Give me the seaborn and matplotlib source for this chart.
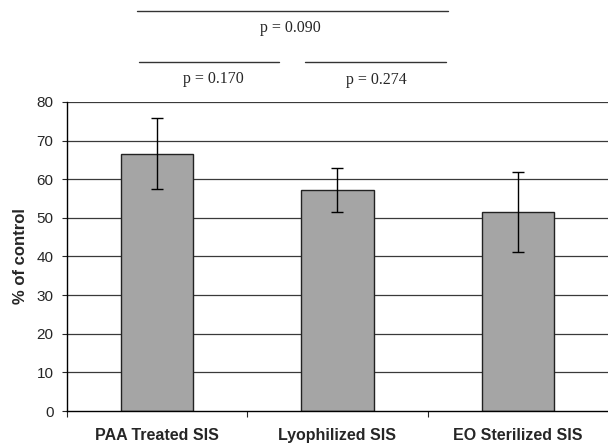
import numpy as np
import pandas as pd
import seaborn as sns
import matplotlib.pyplot as plt

sns.set_style('white')
plt.rcParams['font.family'] = ['Liberation Sans', 'DejaVu Sans']

groups = ['PAA Treated SIS', 'Lyophilized SIS', 'EO Sterilized SIS']
means = [66.6, 57.1, 51.4]
err_lo = [9.1, 5.6, 10.3]
err_hi = [9.2, 5.7, 10.5]

# p-value brackets: (from group, to group, label)
p_pairs = [(0, 2, 'p = 0.090'), (0, 1, 'p = 0.170'), (1, 2, 'p = 0.274')]

df = pd.DataFrame({'group': groups, 'pct': means})

fig = plt.figure(figsize=(6.08, 4.43), dpi=100)
ax = fig.add_axes([0.110, 0.072, 0.89, 0.698])

# gridlines
for v in range(10, 90, 10):
    ax.axhline(v, color='#3a3a3a', lw=0.9, zorder=0)

sns.barplot(data=df, x='group', y='pct', color='#a5a5a5', width=0.4,
            edgecolor='#222222', linewidth=1.0, saturation=1, ax=ax, zorder=2)
ax.errorbar(np.arange(len(groups)), means, yerr=[err_lo, err_hi], fmt='none',
            ecolor='black', elinewidth=1.0, capsize=4, capthick=1.0, zorder=3)

ax.set_xlim(-0.5, 2.5)
ax.set_ylim(0, 80)
ax.set_yticks(range(0, 90, 10))
ax.tick_params(axis='y', labelsize=11, length=3.6, width=0.8, direction='out', left=True, pad=6)
ax.set_xticks(range(3))
ax.set_xticklabels(groups, fontweight='bold', fontsize=11.5)
ax.tick_params(axis='x', which='major', length=0, pad=12)
ax.set_xticks([-0.5, 0.5, 1.5], minor=True)
ax.tick_params(axis='x', which='minor', length=4, width=0.8, direction='out', bottom=True)
ax.set_xlabel('')
ax.set_ylabel('% of control', fontweight='bold', fontsize=12, labelpad=6)

for s in ['left', 'bottom']:
    ax.spines[s].set_color('black')
    ax.spines[s].set_linewidth(1.0)
ax.spines['top'].set_visible(False)
ax.spines['right'].set_visible(False)

# significance annotations above the axes
serif = ['Liberation Serif', 'DejaVu Serif']
ax.plot([-0.112, 1.613], [103.4, 103.4], color='#333333', lw=1.0, clip_on=False)
ax.text(0.737, 99.0, p_pairs[0][2], ha='center', va='center', fontsize=11.5, family=serif)
ax.plot([-0.101, 0.676], [90.4, 90.4], color='#333333', lw=1.0, clip_on=False)
ax.text(0.31, 85.8, p_pairs[1][2], ha='center', va='center', fontsize=11.5, family=serif)
ax.plot([0.82, 1.602], [90.4, 90.4], color='#333333', lw=1.0, clip_on=False)
ax.text(1.214, 85.6, p_pairs[2][2], ha='center', va='center', fontsize=11.5, family=serif)

fig.savefig('out.png', dpi=100)
